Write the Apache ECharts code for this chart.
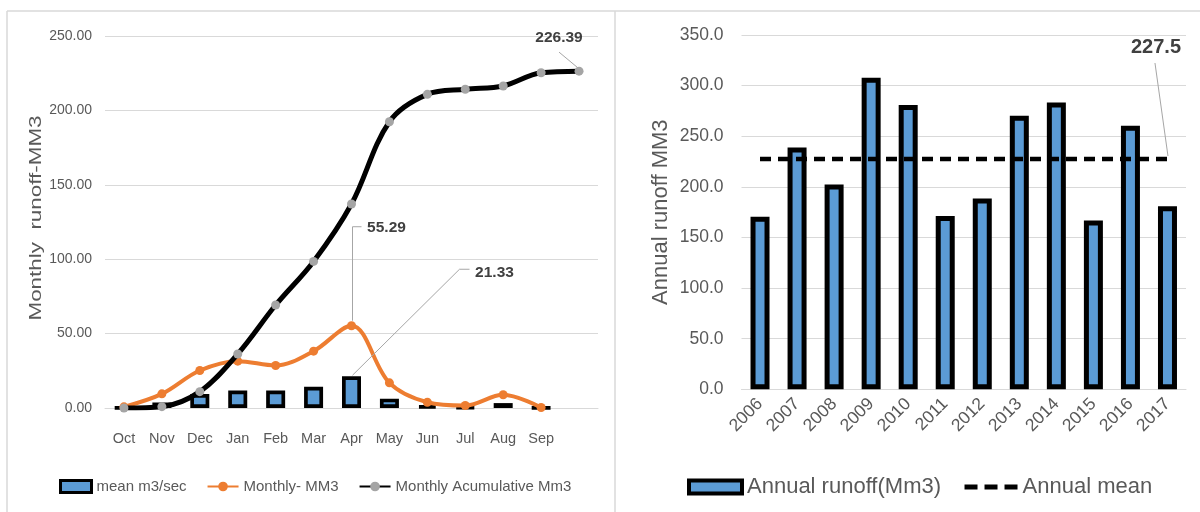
<!DOCTYPE html>
<html>
<head>
<meta charset="utf-8">
<script src="https://cdn.jsdelivr.net/npm/echarts/dist/echarts.min.js"></script>
<style>
  html, body { margin: 0; padding: 0; background: #ffffff; }
  #chart { width: 1200px; height: 512px; }
</style>
</head>
<body>
<div id="chart"></div>
<script>
// Monthly runoff panel
const months = ['Oct', 'Nov', 'Dec', 'Jan', 'Feb', 'Mar', 'Apr', 'May', 'Jun', 'Jul', 'Aug', 'Sep', ''];
const meanFlow = [0.3, 3.7, 9.4, 11.8, 11.8, 14.3, 21.33, 6.3, 1.5, 0.6, 3.3, 0.1];
const monthlyVolume = [0.8, 9.5, 25.2, 31.5, 28.6, 38.2, 55.29, 16.9, 3.9, 1.7, 8.9, 0.3];
const cumulativeVolume = [0, 0.9, 11.0, 36.3, 69.2, 98.5, 137.1, 192.4, 210.8, 214.2, 216.4, 225.3, 226.39];
const monthlyAxis = { min: 0, max: 250, interval: 50 };

// Annual runoff panel
const years = ['2006', '2007', '2008', '2009', '2010', '2011', '2012', '2013', '2014', '2015', '2016', '2017'];
const annualRunoff = [170.4, 238.9, 202.3, 307.8, 280.8, 171.3, 188.5, 270.2, 283.4, 166.7, 260.3, 180.9];
const annualMean = 227.5;
const annualAxis = { min: 0, max: 350, interval: 50 };

// Which points carry a value label
const flowLabelIdx = 6;
const volumeLabelIdx = 6;
const cumulativeLabelIdx = 12;
const meanLabelIdx = 11;

const SANS = '"Liberation Sans", Arial, sans-serif';
const GREY = '#595959';
const GRID_GREY = '#D9D9D9';
const LABEL_DARK = '#404040';

const chart = echarts.init(document.getElementById('chart'), null, { renderer: 'canvas' });

function withLabel(arr, idx) {
  return arr.map((v, i) => (i === idx ? { value: v, label: { show: true } } : v));
}

const leftValueLabel = {
  show: false,
  position: 'top',
  color: LABEL_DARK,
  fontFamily: SANS,
  fontWeight: 'bold',
  fontSize: 15.5,
  formatter: p => Number(p.value).toFixed(2)
};

const meanData = years.map((y, i) =>
  i === meanLabelIdx
    ? { value: annualMean, symbol: 'circle', symbolSize: 0, label: { show: true } }
    : annualMean
);

const option = {
  animation: false,
  backgroundColor: '#ffffff',
  textStyle: { fontFamily: SANS },
  grid: [
    { left: 105, right: 602, top: 36, height: 372, containLabel: false },
    { left: 741.5, right: 14, top: 35, height: 354.3, containLabel: false }
  ],
  xAxis: [
    {
      type: 'category', gridIndex: 0, data: months,
      axisLine: { show: true, lineStyle: { color: GRID_GREY, width: 1 } },
      axisTick: { show: false },
      axisLabel: { color: GREY, fontFamily: SANS, fontSize: 14.5, margin: 23, interval: 0 }
    },
    {
      type: 'category', gridIndex: 1, data: years,
      axisLine: { show: true, lineStyle: { color: GRID_GREY, width: 1 } },
      axisTick: { show: false },
      axisLabel: { color: GREY, fontFamily: SANS, fontSize: 17.5, rotate: 45, margin: 12, interval: 0 }
    }
  ],
  yAxis: [
    {
      type: 'value', gridIndex: 0,
      min: monthlyAxis.min, max: monthlyAxis.max, interval: monthlyAxis.interval,
      axisLine: { show: false }, axisTick: { show: false },
      splitLine: { lineStyle: { color: GRID_GREY, width: 1 } },
      axisLabel: { color: GREY, fontFamily: SANS, fontSize: 14, margin: 13, formatter: v => v.toFixed(2) }
    },
    {
      type: 'value', gridIndex: 1,
      min: annualAxis.min, max: annualAxis.max, interval: annualAxis.interval,
      axisLine: { show: false }, axisTick: { show: false },
      splitLine: { lineStyle: { color: GRID_GREY, width: 1 } },
      axisLabel: { color: GREY, fontFamily: SANS, fontSize: 17.5, margin: 18, formatter: v => v.toFixed(1) },
      name: 'Annual runoff MM3',
      nameLocation: 'middle',
      nameRotate: 90,
      nameGap: 70,
      nameTextStyle: { color: GREY, fontFamily: SANS, fontSize: 22 }
    }
  ],
  legend: [
    {
      left: 59, top: 479, padding: 0,
      itemWidth: 31, itemHeight: 12, itemGap: 20,
      textStyle: { color: GREY, fontFamily: SANS, fontSize: 15 },
      data: [
        { name: 'mean m3/sec', icon: 'rect', itemStyle: { borderWidth: 3, borderColor: '#000' } },
        { name: 'Monthly- MM3' },
        { name: 'Monthly Acumulative Mm3' }
      ]
    },
    {
      left: 687, top: 476, padding: 0,
      itemWidth: 53, itemHeight: 13, itemGap: 21,
      textStyle: { color: GREY, fontFamily: SANS, fontSize: 22 },
      data: [
        { name: 'Annual runoff(Mm3)', icon: 'rect', itemStyle: { borderWidth: 4, borderColor: '#000' } },
        {
          name: 'Annual mean',
          itemStyle: { color: 'rgba(0,0,0,0)', borderColor: 'rgba(0,0,0,0)', borderWidth: 0 },
          lineStyle: { color: '#000000', width: 5, type: [13, 7] }
        }
      ]
    }
  ],
  series: [
    {
      name: 'mean m3/sec', type: 'bar', xAxisIndex: 0, yAxisIndex: 0,
      data: withLabel(meanFlow, flowLabelIdx),
      barWidth: 19,
      itemStyle: { color: '#5B9BD5', borderColor: '#000000', borderWidth: 3.7 },
      label: Object.assign({}, leftValueLabel, { offset: [143, -91] }),
      z: 2
    },
    {
      name: 'Monthly- MM3', type: 'line', xAxisIndex: 0, yAxisIndex: 0,
      data: withLabel(monthlyVolume, volumeLabelIdx),
      smooth: 0.35,
      symbol: 'circle', symbolSize: 9,
      lineStyle: { color: '#ED7D31', width: 4 },
      itemStyle: { color: '#ED7D31' },
      label: Object.assign({}, leftValueLabel, { offset: [35, -81] }),
      z: 3
    },
    {
      name: 'Monthly Acumulative Mm3', type: 'line', xAxisIndex: 0, yAxisIndex: 0,
      data: withLabel(cumulativeVolume, cumulativeLabelIdx),
      smooth: 0.35,
      symbol: 'circle', symbolSize: 9,
      lineStyle: { color: '#000000', width: 5 },
      itemStyle: { color: '#A5A5A5' },
      label: Object.assign({}, leftValueLabel, { offset: [-20, -16] }),
      z: 4
    },
    {
      name: 'Annual runoff(Mm3)', type: 'bar', xAxisIndex: 1, yAxisIndex: 1,
      data: annualRunoff,
      barWidth: 19,
      itemStyle: { color: '#5B9BD5', borderColor: '#000000', borderWidth: 5 },
      z: 2
    },
    {
      name: 'Annual mean', type: 'line', xAxisIndex: 1, yAxisIndex: 1,
      data: meanData,
      symbol: 'none',
      lineStyle: { color: '#000000', width: 4.5, type: [11, 7] },
      itemStyle: { color: '#000000' },
      label: {
        show: false, position: 'top', offset: [-11.5, -97],
        color: LABEL_DARK, fontFamily: SANS, fontWeight: 'bold', fontSize: 20,
        formatter: p => Number(p.value).toFixed(1)
      },
      z: 4
    }
  ]
};

chart.setOption(option);

// Leader lines from labelled points to their value labels, placed with the chart's own scales
function px(seriesIndex, idx, value) {
  return chart.convertToPixel({ seriesIndex: seriesIndex }, [idx, value]);
}
const leaderStyle = { stroke: '#A6A6A6', lineWidth: 1, fill: null };
const pCum = px(2, cumulativeLabelIdx, cumulativeVolume[cumulativeLabelIdx]);
const pVol = px(1, volumeLabelIdx, monthlyVolume[volumeLabelIdx]);
const pFlow = px(0, flowLabelIdx, meanFlow[flowLabelIdx]);
const pMean = px(4, meanLabelIdx, annualMean);

const graphics = [
  // panel frames
  { type: 'line', shape: { x1: 7, y1: 11, x2: 1200, y2: 11 }, style: { stroke: GRID_GREY, lineWidth: 1.5 }, silent: true },
  { type: 'line', shape: { x1: 7, y1: 11, x2: 7, y2: 512 }, style: { stroke: GRID_GREY, lineWidth: 1.5 }, silent: true },
  { type: 'line', shape: { x1: 615, y1: 11, x2: 615, y2: 512 }, style: { stroke: GRID_GREY, lineWidth: 1.5 }, silent: true },
  // left value-axis title, stretched along its length
  {
    type: 'text', x: 37, y: 218, rotation: Math.PI / 2, scaleX: 1.4,
    style: { text: 'Monthly  runoff-MM3', font: '16px ' + SANS, fill: GREY, align: 'center', verticalAlign: 'middle' },
    silent: true
  },
  { type: 'polyline', shape: { points: [[pCum[0] - 20, pCum[1] - 19], [pCum[0] - 2, pCum[1] - 4]] }, style: leaderStyle, silent: true, z: 10 },
  { type: 'polyline', shape: { points: [[pVol[0] + 1, pVol[1] - 5], [pVol[0] + 1, pVol[1] - 99], [pVol[0] + 10, pVol[1] - 99]] }, style: leaderStyle, silent: true, z: 10 },
  { type: 'polyline', shape: { points: [[pFlow[0] + 1, pFlow[1] - 1], [pFlow[0] + 108, pFlow[1] - 107], [pFlow[0] + 118, pFlow[1] - 107]] }, style: leaderStyle, silent: true, z: 10 },
  { type: 'polyline', shape: { points: [[pMean[0] - 12.5, pMean[1] - 96], [pMean[0] + 0.5, pMean[1] - 3]] }, style: leaderStyle, silent: true, z: 10 }
];

chart.setOption({ graphic: graphics });
</script>
</body>
</html>
